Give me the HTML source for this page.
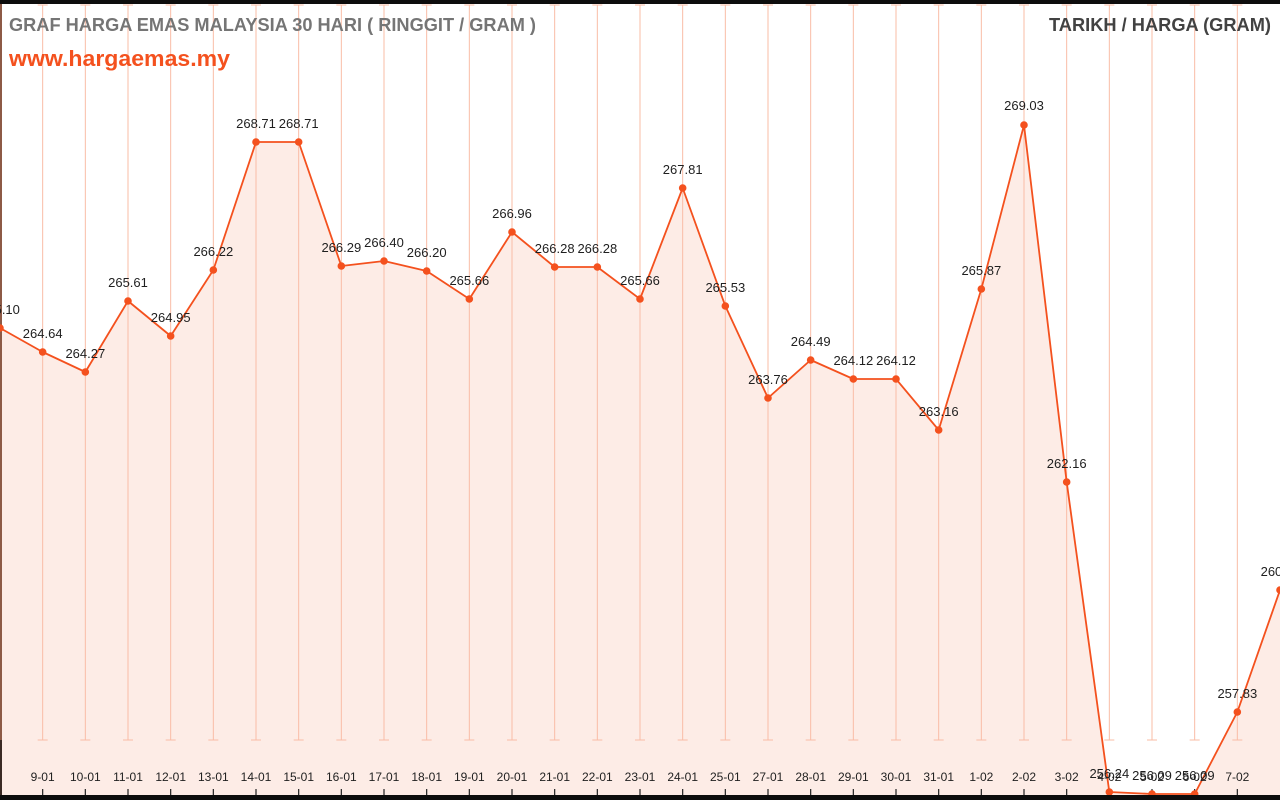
<!DOCTYPE html>
<html>
<head>
<meta charset="utf-8">
<style>
  html,body{margin:0;padding:0;background:#fff;}
  svg{display:block;}
  text{font-family:"Liberation Sans",Arial,sans-serif;}
</style>
</head>
<body>
<svg width="1280" height="800" viewBox="0 0 1280 800" xmlns="http://www.w3.org/2000/svg">
  <rect x="0" y="0" width="1280" height="800" fill="#ffffff"/>
  <!-- fill area -->
  <polygon fill="#fdece6" points="0,795 0,328 42.67,352 85.33,372 128,301 170.67,336 213.33,270 256,142 298.67,142 341.33,266 384,261 426.67,271 469.33,299 512,232 554.67,267 597.33,267 640,299 682.67,188 725.33,306 768,398 810.67,360 853.33,379 896,379 938.67,430 981.33,289 1024,125 1066.67,482 1109.33,792 1152,794 1194.67,794 1237.33,712 1280,590 1280,795"/>
  <!-- gridlines -->
  <g stroke="#f9bca6" stroke-width="1">
    <path d="M42.67,5V740M85.33,5V740M128,5V740M170.67,5V740M213.33,5V740M256,5V740M298.67,5V740M341.33,5V740M384,5V740M426.67,5V740M469.33,5V740M512,5V740M554.67,5V740M597.33,5V740M640,5V740M682.67,5V740M725.33,5V740M768,5V740M810.67,5V740M853.33,5V740M896,5V740M938.67,5V740M981.33,5V740M1024,5V740M1066.67,5V740M1109.33,5V740M1152,5V740M1194.67,5V740M1237.33,5V740"/>
    <path d="M37.67,740h10M80.33,740h10M123,740h10M165.67,740h10M208.33,740h10M251,740h10M293.67,740h10M336.33,740h10M379,740h10M421.67,740h10M464.33,740h10M507,740h10M549.67,740h10M592.33,740h10M635,740h10M677.67,740h10M720.33,740h10M763,740h10M805.67,740h10M848.33,740h10M891,740h10M933.67,740h10M976.33,740h10M1019,740h10M1061.67,740h10M1104.33,740h10M1147,740h10M1189.67,740h10M1232.33,740h10"/>
    <path d="M37.67,5h10M80.33,5h10M123,5h10M165.67,5h10M208.33,5h10M251,5h10M293.67,5h10M336.33,5h10M379,5h10M421.67,5h10M464.33,5h10M507,5h10M549.67,5h10M592.33,5h10M635,5h10M677.67,5h10M720.33,5h10M763,5h10M805.67,5h10M848.33,5h10M891,5h10M933.67,5h10M976.33,5h10M1019,5h10M1061.67,5h10M1104.33,5h10M1147,5h10M1189.67,5h10M1232.33,5h10"/>
  </g>
  <!-- left edge -->
  <rect x="0" y="4" width="2" height="736" fill="#8d5a46"/>
  <rect x="0" y="740" width="2" height="55" fill="#3a2a24"/>
  <!-- bottom ticks -->
  <g stroke="#222" stroke-width="1.2">
    <path d="M42.67,789V795M85.33,789V795M128,789V795M170.67,789V795M213.33,789V795M256,789V795M298.67,789V795M341.33,789V795M384,789V795M426.67,789V795M469.33,789V795M512,789V795M554.67,789V795M597.33,789V795M640,789V795M682.67,789V795M725.33,789V795M768,789V795M810.67,789V795M853.33,789V795M896,789V795M938.67,789V795M981.33,789V795M1024,789V795M1066.67,789V795M1109.33,789V795M1152,789V795M1194.67,789V795M1237.33,789V795"/>
  </g>
  <!-- line -->
  <polyline fill="none" stroke="#f4511e" stroke-width="1.8" stroke-linejoin="round" points="0,328 42.67,352 85.33,372 128,301 170.67,336 213.33,270 256,142 298.67,142 341.33,266 384,261 426.67,271 469.33,299 512,232 554.67,267 597.33,267 640,299 682.67,188 725.33,306 768,398 810.67,360 853.33,379 896,379 938.67,430 981.33,289 1024,125 1066.67,482 1109.33,792 1152,794 1194.67,794 1237.33,712 1280,590"/>
  <!-- dots -->
  <g fill="#f4511e">
    <circle cx="0" cy="328" r="3.8"/><circle cx="42.67" cy="352" r="3.8"/><circle cx="85.33" cy="372" r="3.8"/><circle cx="128" cy="301" r="3.8"/><circle cx="170.67" cy="336" r="3.8"/><circle cx="213.33" cy="270" r="3.8"/><circle cx="256" cy="142" r="3.8"/><circle cx="298.67" cy="142" r="3.8"/><circle cx="341.33" cy="266" r="3.8"/><circle cx="384" cy="261" r="3.8"/><circle cx="426.67" cy="271" r="3.8"/><circle cx="469.33" cy="299" r="3.8"/><circle cx="512" cy="232" r="3.8"/><circle cx="554.67" cy="267" r="3.8"/><circle cx="597.33" cy="267" r="3.8"/><circle cx="640" cy="299" r="3.8"/><circle cx="682.67" cy="188" r="3.8"/><circle cx="725.33" cy="306" r="3.8"/><circle cx="768" cy="398" r="3.8"/><circle cx="810.67" cy="360" r="3.8"/><circle cx="853.33" cy="379" r="3.8"/><circle cx="896" cy="379" r="3.8"/><circle cx="938.67" cy="430" r="3.8"/><circle cx="981.33" cy="289" r="3.8"/><circle cx="1024" cy="125" r="3.8"/><circle cx="1066.67" cy="482" r="3.8"/><circle cx="1109.33" cy="792" r="3.8"/><circle cx="1152" cy="794" r="3.8"/><circle cx="1194.67" cy="794" r="3.8"/><circle cx="1237.33" cy="712" r="3.8"/><circle cx="1280" cy="590" r="3.8"/>
  </g>
  <!-- value labels -->
  <g font-size="13" fill="#1f1f1f" text-anchor="middle">
    <text x="0" y="314">265.10</text>
    <text x="42.67" y="338">264.64</text>
    <text x="85.33" y="358">264.27</text>
    <text x="128" y="287">265.61</text>
    <text x="170.67" y="322">264.95</text>
    <text x="213.33" y="256">266.22</text>
    <text x="256" y="128">268.71</text>
    <text x="298.67" y="128">268.71</text>
    <text x="341.33" y="252">266.29</text>
    <text x="384" y="247">266.40</text>
    <text x="426.67" y="257">266.20</text>
    <text x="469.33" y="285">265.66</text>
    <text x="512" y="218">266.96</text>
    <text x="554.67" y="253">266.28</text>
    <text x="597.33" y="253">266.28</text>
    <text x="640" y="285">265.66</text>
    <text x="682.67" y="174">267.81</text>
    <text x="725.33" y="292">265.53</text>
    <text x="768" y="384">263.76</text>
    <text x="810.67" y="346">264.49</text>
    <text x="853.33" y="365">264.12</text>
    <text x="896" y="365">264.12</text>
    <text x="938.67" y="416">263.16</text>
    <text x="981.33" y="275">265.87</text>
    <text x="1024" y="110">269.03</text>
    <text x="1066.67" y="468">262.16</text>
    <text x="1109.33" y="778">256.24</text>
    <text x="1152" y="780">256.09</text>
    <text x="1194.67" y="780">256.09</text>
    <text x="1237.33" y="698">257.83</text>
    <text x="1280" y="576">260.11</text>
  </g>
  <!-- x labels -->
  <g font-size="12" fill="#1f1f1f" text-anchor="middle">
    <text x="42.67" y="781">9-01</text>
    <text x="85.33" y="781">10-01</text>
    <text x="128" y="781">11-01</text>
    <text x="170.67" y="781">12-01</text>
    <text x="213.33" y="781">13-01</text>
    <text x="256" y="781">14-01</text>
    <text x="298.67" y="781">15-01</text>
    <text x="341.33" y="781">16-01</text>
    <text x="384" y="781">17-01</text>
    <text x="426.67" y="781">18-01</text>
    <text x="469.33" y="781">19-01</text>
    <text x="512" y="781">20-01</text>
    <text x="554.67" y="781">21-01</text>
    <text x="597.33" y="781">22-01</text>
    <text x="640" y="781">23-01</text>
    <text x="682.67" y="781">24-01</text>
    <text x="725.33" y="781">25-01</text>
    <text x="768" y="781">27-01</text>
    <text x="810.67" y="781">28-01</text>
    <text x="853.33" y="781">29-01</text>
    <text x="896" y="781">30-01</text>
    <text x="938.67" y="781">31-01</text>
    <text x="981.33" y="781">1-02</text>
    <text x="1024" y="781">2-02</text>
    <text x="1066.67" y="781">3-02</text>
    <text x="1109.33" y="781">4-02</text>
    <text x="1152" y="781">5-02</text>
    <text x="1194.67" y="781">6-02</text>
    <text x="1237.33" y="781">7-02</text>
  </g>
  <!-- titles -->
  <text x="9" y="31" font-size="18" font-weight="bold" fill="#757575" textLength="527" lengthAdjust="spacingAndGlyphs">GRAF HARGA EMAS MALAYSIA 30 HARI ( RINGGIT / GRAM )</text>
  <text x="9" y="66" font-size="22" font-weight="bold" fill="#f4511e" textLength="221" lengthAdjust="spacingAndGlyphs">www.hargaemas.my</text>
  <text x="1049" y="31" font-size="18" font-weight="bold" fill="#424242" textLength="222" lengthAdjust="spacingAndGlyphs">TARIKH / HARGA (GRAM)</text>
  <!-- black bars -->
  <rect x="0" y="0" width="1280" height="4" fill="#0d0d0d"/>
  <rect x="0" y="795" width="1280" height="5" fill="#0d0d0d"/>
</svg>
</body>
</html>
